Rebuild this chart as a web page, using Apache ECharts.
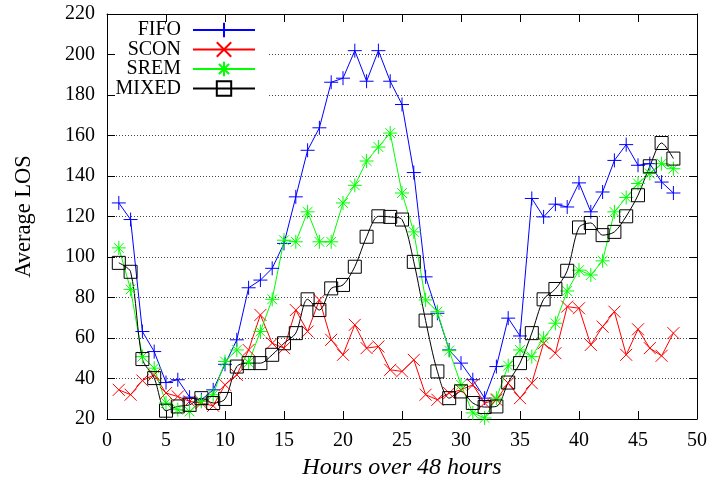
<!DOCTYPE html>
<html>
<head>
<meta charset="utf-8">
<script src="https://cdn.jsdelivr.net/npm/echarts@6/dist/echarts.min.js"></script>
<style>html,body{margin:0;padding:0;background:#fff;}#c{width:712px;height:487px;}</style>
</head>
<body>
<div id="c"></div>
<script>
const hours = [1,2,3,4,5,6,7,8,9,10,11,12,13,14,15,16,17,18,19,20,21,22,23,24,25,26,27,28,29,30,31,32,33,34,35,36,37,38,39,40,41,42,43,44,45,46,47,48];
const fifo = [126.7,118.5,63.2,53.3,38.0,39.4,30.8,29.5,34.4,47.0,59.1,84.8,88.6,94.4,106.7,129.7,152.7,163.8,186.3,188.3,201.9,186.8,201.9,186.8,175.3,141.7,90.2,72.2,54.1,47.6,39.4,30.3,45.9,69.8,61.0,128.9,119.8,126.1,124.7,136.6,122.3,132.1,147.7,155.5,145.3,146.1,137.0,131.6];
const scon = [34.4,32.0,39.0,41.8,32.8,31.1,28.7,27.9,26.5,36.9,41.8,54.1,71.4,57.4,55.0,73.8,63.2,78.8,59.1,51.7,66.5,55.0,55.8,44.3,43.5,49.2,32.0,29.5,32.8,34.4,36.9,27.9,29.5,37.7,30.3,37.7,57.4,52.5,75.5,74.7,56.6,65.6,73.0,51.7,64.3,55.0,51.2,62.4];
const srem = [104.5,84.0,50.8,45.1,27.9,24.6,23.7,28.7,32.0,48.4,54.1,47.9,63.2,79.1,108.3,107.5,122.3,107.5,107.5,126.7,135.4,147.4,154.3,161.2,131.6,112.4,78.8,73.0,53.8,36.9,23.0,20.5,30.3,46.3,54.1,50.8,59.9,67.3,83.2,93.5,91.1,98.1,122.3,129.4,136.3,141.2,146.1,143.6];
const mixed = [97.1,92.7,49.6,40.2,24.1,26.2,27.0,30.3,27.9,29.9,45.9,47.6,47.6,51.7,57.4,62.4,79.1,73.8,84.5,86.2,95.2,110.0,120.1,119.8,118.5,97.6,68.6,43.5,30.3,33.6,27.9,25.9,26.2,38.0,47.6,62.4,79.1,84.2,93.2,114.6,116.8,110.8,112.4,120.1,130.5,144.8,156.3,148.6];
const seriesNames = ['FIFO','SCON','SREM','MIXED'];
const xTicks = {min:0, max:50, step:5};
const yTicks = {min:20, max:220, step:20};

const FONT = 'Liberation Serif';
const pair = arr => hours.map((h,i)=>[h, arr[i]]);
const SYM = {
  plus: 'path://M0,5 L10,5 M5,0 L5,10',
  cross: 'path://M0,0 L10,10 M10,0 L0,10',
  star: 'path://M0,5 L10,5 M5,0 L5,10 M1.5,1.5 L8.5,8.5 M8.5,1.5 L1.5,8.5',
  square: 'path://M0,0 L10,0 L10,10 L0,10 Z'
};
function mk(name, data, color, sym, size, smooth){
  return {
    name, type:'line', data: pair(data), symbol: sym, symbolSize: size,
    smooth: smooth || false,
    showAllSymbol: true,
    lineStyle:{color, width:1},
    itemStyle:{color:'rgba(0,0,0,0)', borderColor:color, borderWidth:1},
    emphasis:{disabled:true}
  };
}
const chart = echarts.init(document.getElementById('c'), null, {renderer:'canvas'});
const axisCommon = {
  axisLine:{show:true, onZero:false, lineStyle:{color:'#000', width:1}},
  axisTick:{show:true, inside:true, length:8, lineStyle:{color:'#000'}},
};
const legendBase = (name, top) => ({
  data:[name], orient:'vertical', right:456, top: top, padding:0,
  itemWidth:62, itemHeight:18, itemGap:0,
  textStyle:{fontFamily:FONT, fontSize:20, color:'#000', lineHeight:20, padding:[0,7,0,0]},
  selectedMode:false, align:'right'
});
chart.setOption({
  animation:false,
  backgroundColor:'#fff',
  grid:{left:107, right:15, top:14, bottom:68},
  graphic:[{type:'rect', shape:{x:116, y:22, width:152, height:76}, style:{fill:'#fff'}, z:1, silent:true}],
  legend:[legendBase('FIFO',20), legendBase('SCON',39.5), legendBase('SREM',59), legendBase('MIXED',78.5)],
  xAxis:[
    Object.assign({type:'value', position:'bottom', min:xTicks.min, max:xTicks.max, interval:xTicks.step,
      name:'Hours over 48 hours', nameLocation:'middle', nameGap:36,
      nameTextStyle:{fontFamily:FONT, fontSize:24, fontStyle:'italic', color:'#000'},
      axisLabel:{fontFamily:FONT, fontSize:20, color:'#000', margin:12},
      splitLine:{show:false}}, axisCommon),
    Object.assign({type:'value', position:'top', min:xTicks.min, max:xTicks.max, interval:xTicks.step,
      axisLabel:{show:false}, splitLine:{show:false}}, axisCommon)
  ],
  yAxis:[
    Object.assign({type:'value', position:'left', min:yTicks.min, max:yTicks.max, interval:yTicks.step,
      name:'Average LOS', nameLocation:'middle', nameGap:71,
      nameTextStyle:{fontFamily:FONT, fontSize:22.5, color:'#000'},
      axisLabel:{fontFamily:FONT, fontSize:20, color:'#000', margin:12},
      splitLine:{show:true, lineStyle:{color:'#444', type:[1,2], width:1}}}, axisCommon),
    Object.assign({type:'value', position:'right', min:yTicks.min, max:yTicks.max, interval:yTicks.step,
      axisLabel:{show:false}, splitLine:{show:false}}, axisCommon)
  ],
  series:[
    mk(seriesNames[0], fifo, '#0000ff', SYM.plus, 14),
    mk(seriesNames[1], scon, '#ff0000', SYM.cross, 12),
    mk(seriesNames[2], srem, '#00ff00', SYM.star, 14),
    mk(seriesNames[3], mixed, '#000000', SYM.square, 13, 0.3)
  ]
});
</script>
</body>
</html>
